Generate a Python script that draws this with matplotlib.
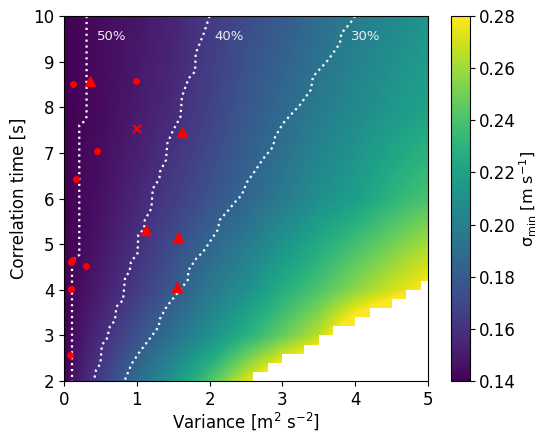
import numpy as np
import matplotlib
matplotlib.use("Agg")
import matplotlib.pyplot as plt
from matplotlib.colors import ListedColormap

# ---- heat-map values (sigma_min, m/s) read at node points ----
# (nodes beyond the white no-solution region are hidden by the mask)
variance_nodes = [0.0, 0.5, 1.0, 1.5, 2.0, 2.5, 3.0, 3.5, 4.0, 4.5, 5.0]
corr_time_nodes = [2, 3, 4, 5, 6, 7, 8, 9, 10]
sigma_y2 = [0.140, 0.165, 0.189, 0.214, 0.240, 0.272, 0.300, 0.320, 0.330, 0.340, 0.350]
sigma_y3 = [0.140, 0.157, 0.175, 0.192, 0.210, 0.229, 0.247, 0.266, 0.300, 0.320, 0.330]
sigma_y4 = [0.140, 0.151, 0.164, 0.179, 0.196, 0.210, 0.227, 0.241, 0.256, 0.270, 0.282]
sigma_y5 = [0.140, 0.148, 0.159, 0.172, 0.186, 0.198, 0.212, 0.225, 0.238, 0.250, 0.262]
sigma_y6 = [0.140, 0.146, 0.155, 0.165, 0.176, 0.186, 0.197, 0.210, 0.218, 0.231, 0.240]
sigma_y7 = [0.140, 0.145, 0.152, 0.161, 0.171, 0.182, 0.192, 0.203, 0.212, 0.222, 0.230]
sigma_y8 = [0.140, 0.144, 0.150, 0.157, 0.167, 0.178, 0.188, 0.197, 0.206, 0.214, 0.221]
sigma_y9 = [0.140, 0.144, 0.149, 0.155, 0.165, 0.175, 0.184, 0.193, 0.202, 0.210, 0.217]
sigma_y10 = [0.140, 0.144, 0.148, 0.154, 0.164, 0.172, 0.180, 0.190, 0.198, 0.205, 0.213]

# ---- region without solution (white), per 0.2-s row starting at 2.0 s ----
cut_row_bottoms = [2.0, 2.2, 2.4, 2.6, 2.8, 3.0, 3.2, 3.4, 3.6, 3.8, 4.0]
cut_start_variance = [2.6, 2.8, 3.0, 3.3, 3.5, 3.7, 4.0, 4.2, 4.5, 4.7, 4.9]

# ---- percentage contours ----
c50_x = [0.31, 0.31, 0.27, 0.21, 0.21, 0.15, 0.11, 0.11]
c50_y = [10.0, 7.79, 7.68, 7.61, 4.76, 4.71, 4.58, 2.0]
c40_x = [2.00, 1.92, 1.81, 1.80, 1.71, 1.62, 1.60, 1.50, 1.42, 1.40, 1.32, 1.31, 1.27,
         1.22, 1.20, 1.11, 1.10, 1.02, 1.01, 0.92, 0.90, 0.84, 0.81, 0.72, 0.70, 0.63,
         0.59, 0.52, 0.50, 0.44, 0.41]
c40_y = [10.0, 9.62, 9.18, 8.78, 8.63, 8.23, 7.79, 7.50, 7.21, 6.84, 6.59, 6.45, 6.33,
         6.22, 5.78, 5.53, 5.34, 5.20, 4.80, 4.61, 4.39, 4.28, 3.77, 3.63, 3.33, 3.19,
         2.93, 2.79, 2.38, 2.24, 2.0]
c30_x = [4.00, 3.93, 3.81, 3.79, 3.63, 3.42, 3.39, 3.24, 3.01, 2.90, 2.87, 2.74, 2.60,
         2.51, 2.44, 2.37, 2.24, 2.14, 2.11, 2.05, 1.91, 1.82, 1.71, 1.70, 1.57, 1.41,
         1.32, 1.30, 1.16, 1.04, 0.93, 0.83]
c30_y = [10.0, 9.84, 9.62, 9.40, 9.04, 8.67, 8.38, 8.05, 7.65, 7.35, 7.13, 6.88, 6.55,
         6.35, 6.07, 5.96, 5.71, 5.53, 5.31, 5.16, 4.83, 4.69, 4.43, 4.21, 3.95, 3.63,
         3.37, 3.19, 2.89, 2.64, 2.38, 2.0]
contour_labels = ["50%", "40%", "30%"]
label_x = [0.66, 2.27, 4.15]
label_y = [9.54, 9.54, 9.54]

# ---- observations ----
dots_x = [0.13, 0.99, 0.45, 0.165, 0.114, 0.096, 0.30, 0.10, 0.08]
dots_y = [8.50, 8.57, 7.04, 6.43, 4.66, 4.61, 4.51, 4.02, 2.57]
tri_x = [0.357, 1.62, 1.12, 1.56, 1.55]
tri_y = [8.57, 7.46, 5.31, 5.16, 4.05]
cross_x = [1.007]
cross_y = [7.52]

fig = plt.figure(figsize=(5.41, 4.32), dpi=100)
ax = fig.add_axes([64 / 541, 1 - 381 / 432, (428 - 64) / 541, (381 - 16) / 432])
cax = fig.add_axes([451 / 541, 1 - 381 / 432, 18.5 / 541, (381 - 16) / 432])

Z = np.array([sigma_y2, sigma_y3, sigma_y4, sigma_y5, sigma_y6, sigma_y7, sigma_y8,
              sigma_y9, sigma_y10])
dx = (variance_nodes[1] - variance_nodes[0]) / 2
dy = (corr_time_nodes[1] - corr_time_nodes[0]) / 2
img = ax.imshow(Z, origin="lower", cmap="viridis", vmin=0.14, vmax=0.28,
                interpolation="bilinear", interpolation_stage="data", aspect="auto",
                extent=[variance_nodes[0] - dx, variance_nodes[-1] + dx,
                        corr_time_nodes[0] - dy, corr_time_nodes[-1] + dy])

# white mask on the native 0.1 x 0.2 cell grid
x_edges = np.arange(0, 5.0001, 0.1)
y_edges = np.arange(2.0, 10.0001, 0.2)
xc = 0.5 * (x_edges[:-1] + x_edges[1:])
yc = 0.5 * (y_edges[:-1] + y_edges[1:])
cut = np.full((len(yc), len(xc)), np.inf)
for yb, cs in zip(cut_row_bottoms, cut_start_variance):
    j = int(round((yb - 2.0) / 0.2))
    cut[j, :] = cs
mask_vals = np.ma.masked_where(~(xc[None, :] > cut), np.ones((len(yc), len(xc))))
ax.pcolormesh(x_edges, y_edges, mask_vals, cmap=ListedColormap(["white"]),
              shading="flat", rasterized=True)

for cx, cy in [(c50_x, c50_y), (c40_x, c40_y), (c30_x, c30_y)]:
    ax.plot(cx, cy, color="white", linestyle=":", linewidth=1.6)
for t, lx, ly in zip(contour_labels, label_x, label_y):
    ax.text(lx, ly, t, color="#eeeeee", fontsize=9.5, ha="center", va="center")

ax.plot(dots_x, dots_y, "o", color="red", markersize=4, linestyle="none")
ax.plot(tri_x, tri_y, "^", color="red", markersize=7, linestyle="none")
ax.plot(cross_x, cross_y, "x", color="red", markersize=6, markeredgewidth=1.5,
        linestyle="none")

ax.set_xlim(0, 5)
ax.set_ylim(2, 10)
ax.set_xticks([0, 1, 2, 3, 4, 5])
ax.set_yticks([2, 3, 4, 5, 6, 7, 8, 9, 10])
ax.tick_params(labelsize=12)
ax.set_xlabel("Variance [m$^2$ s$^{-2}$]", fontsize=12, labelpad=1.5)
ax.set_ylabel("Correlation time [s]", fontsize=12)

cb = fig.colorbar(img, cax=cax)
cb.set_ticks([0.14, 0.16, 0.18, 0.20, 0.22, 0.24, 0.26, 0.28])
cb.ax.tick_params(labelsize=12)
cb.set_label(r"$\mathrm{\sigma_{min}}$ [m s$^{-1}$]", fontsize=11.5, labelpad=1)

fig.savefig("out.png", dpi=100)
